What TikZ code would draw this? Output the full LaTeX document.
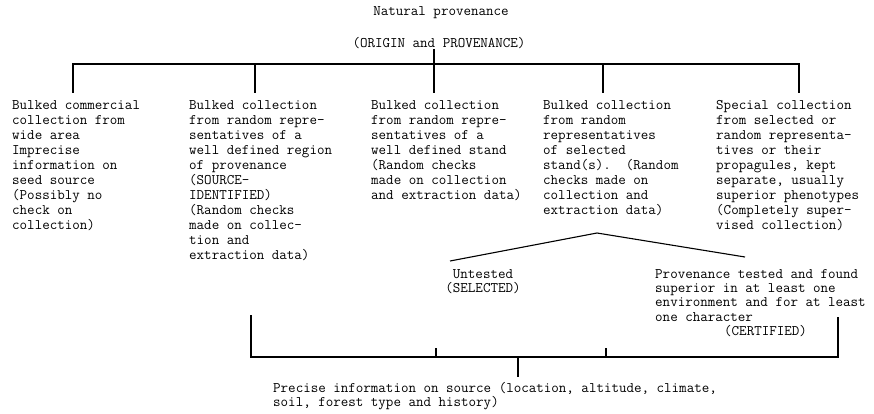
\documentclass[tikz,border=0pt]{standalone}
\usepackage{tikz}
\usetikzlibrary{calc, positioning}

\newcommand{\typedtext}{\ttfamily\fontsize{14.6}{15}\selectfont}
\newcommand{\typedlow}{\ttfamily\fontsize{14.6}{14.3}\selectfont}

\begin{document}
\begin{tikzpicture}[
    x=1pt, y=-1pt,
    col_text/.style={anchor=north west, align=left, inner sep=0pt, font=\typedtext},
    low_text/.style={inner sep=0pt, font=\typedlow},
    title_text/.style={inner sep=0pt, font=\typedtext},
    wire/.style={line width=1.1pt, black}
]
\useasboundingbox (0,0) rectangle (874,414);

\node[title_text] (natural) at (441,13) {Natural provenance};
\node[title_text] (origin) at (439,43) {(ORIGIN and PROVENANCE)};

\node[col_text] (wide) at (12,100) {Bulked commercial\\collection from\\wide area\\Imprecise\\information on\\seed source\\(Possibly no\\check on\\collection)};
\node[col_text] (region) at (189,100) {Bulked collection\\from random repre-\\sentatives of a\\well defined region\\of provenance\\(SOURCE-\\IDENTIFIED)\\(Random checks\\made on collec-\\tion and\\extraction data)};
\node[col_text] (stand) at (371,100) {Bulked collection\\from random repre-\\sentatives of a\\well defined stand\\(Random checks\\made on collection\\and extraction data)};
\node[col_text] (selected) at (543,100) {Bulked collection\\from random\\representatives\\of selected\\stand(s).\ \ (Random\\checks made on\\collection and\\extraction data)};
\node[col_text] (special) at (716,100) {Special collection\\from selected or\\random representa-\\tives or their\\propagules, kept\\separate, usually\\superior phenotypes\\(Completely super-\\vised collection)};

\node[low_text, anchor=north, align=center] (untested) at (483,269) {Untested\\(SELECTED)};
\node[low_text, anchor=north west, align=left] (certified) at (655,269) {Provenance tested and found\\superior in at least one\\environment and for at least\\one character\\\hspace*{4.725em}(CERTIFIED)};

\node[low_text, anchor=north west, align=left] (precise) at (273,382) {Precise information on source (location, altitude, climate,\\soil, forest type and history)};

% top branching
\coordinate (hub) at (434,64);
\coordinate (drop_a) at (73,93);
\coordinate (drop_b) at (255,93);
\coordinate (drop_c) at (434,93);
\coordinate (drop_d) at (603,93);
\coordinate (drop_e) at (799,93);

\draw[wire] (hub |- origin.south) -- (hub);
\draw[wire] (drop_a) |- (hub) -| (drop_e);
\draw[wire] (hub) -- (drop_c);
\draw[wire] (drop_b |- hub) -- (drop_b);
\draw[wire] (drop_d |- hub) -- (drop_d);

% split under the fourth collection
\coordinate (fork) at (597,233);
\coordinate (fork_l) at (450,261);
\coordinate (fork_r) at (745,257);
\draw[wire] (fork_l) -- (fork) -- (fork_r);

% bottom bracket
\coordinate (sink) at (518,357);
\coordinate (side_l) at (251,315);
\coordinate (side_r) at (838,317);
\coordinate (tick_l) at (436,348);
\coordinate (tick_r) at (606,348);

\draw[wire] (side_l) |- (sink) -| (side_r);
\draw[wire] (tick_l) -- (tick_l |- sink);
\draw[wire] (tick_r) -- (tick_r |- sink);
\draw[wire] (sink) -- ([yshift=5pt]precise.north -| sink);

\end{tikzpicture}
\end{document}
